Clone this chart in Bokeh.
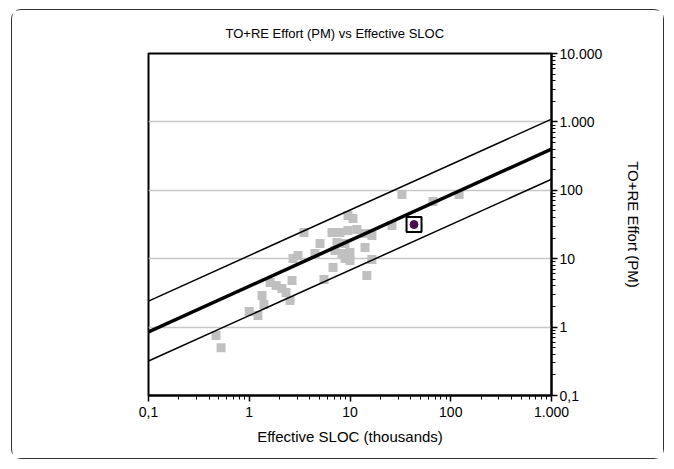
from bokeh.plotting import figure
from bokeh.models import FixedTicker, Title, ColumnDataSource
from bokeh.embed import file_html
from bokeh.resources import INLINE

# Data
sloc = [0.468, 0.525, 1.00, 1.22, 1.34, 1.40, 1.61, 1.85, 2.11, 2.32,
        2.54, 2.66, 2.72, 3.05, 3.49, 4.49, 5.04, 5.52, 6.78, 6.63,
        7.96, 9.55, 11.7, 14.1, 16.5, 7.43, 8.92, 14.1, 7.10, 8.33,
        10.0, 8.92, 10.0, 16.5, 14.7, 9.55, 10.7, 26.1, 32.8, 66.7, 121.0]
effort = [0.753, 0.50, 1.69, 1.48, 2.9, 2.14, 4.49, 4.06, 3.67, 3.2,
          2.45, 4.8, 10.1, 11.1, 24.2, 11.9, 16.7, 4.96, 7.44, 24.2,
          24.2, 25.8, 26.7, 23.4, 21.8, 17.3, 16.7, 14.6, 13.2, 11.9,
          12.3, 10.1, 9.4, 9.74, 5.68, 42.8, 38.7, 30.6, 86.8, 68.6, 86.8]
highlight_sloc = [43.2]
highlight_effort = [31.6]

trend_sloc = [0.1, 1000]
trend_mean = [0.85, 400]
trend_upper = [2.4, 1100]
trend_lower = [0.32, 145]

x_ticks = [0.1, 1, 10, 100, 1000]
x_labels = ["0,1", "1", "10", "100", "1.000"]
y_ticks = [0.1, 1, 10, 100, 1000, 10000]
y_labels = ["0,1", "1", "10", "100", "1.000", "10.000"]

FONT = "Liberation Sans"

p = figure(width=651, height=448, x_axis_type="log", y_axis_type="log",
           x_range=(0.1, 1000), y_range=(0.1, 10000),
           y_axis_location="right", output_backend="svg",
           toolbar_location=None, tools="",
           min_border_left=136, min_border_right=112,
           min_border_top=43, min_border_bottom=63,
           frame_width=403, frame_height=342)
p.margin = (9, 0, 0, 11)
p.styles = {"border": "1.5px solid #333333", "border-radius": "10px"}

p.title = Title(text="TO+RE Effort (PM) vs Effective SLOC", align="left",
                text_font=FONT, text_font_size="13px", text_font_style="normal",
                text_color="black", offset=77, standoff=26)

p.background_fill_color = "white"
p.border_fill_color = "white"
p.outline_line_color = "black"
p.outline_line_width = 2

x_minor = [m * 10.0 ** e for e in range(-1, 3) for m in range(2, 10)]
y_minor = [m * 10.0 ** e for e in range(-1, 4) for m in range(2, 10)]

xa = p.xaxis[0]
xa.ticker = FixedTicker(ticks=x_ticks, minor_ticks=x_minor)
xa.major_label_overrides = {t: l for t, l in zip(x_ticks, x_labels)}
xa.axis_label = "Effective SLOC (thousands)"

ya = p.yaxis[0]
ya.ticker = FixedTicker(ticks=y_ticks, minor_ticks=y_minor)
ya.major_label_overrides = {t: l for t, l in zip(y_ticks, y_labels)}
ya.axis_label = "TO+RE Effort (PM)"

for ax in (xa, ya):
    ax.axis_line_color = "black"
    ax.axis_line_width = 2
    ax.major_tick_line_color = "black"
    ax.minor_tick_line_color = "black"
    ax.major_tick_line_width = 1.5
    ax.minor_tick_line_width = 1
    ax.major_tick_out = 6
    ax.major_tick_in = 0
    ax.minor_tick_out = 4
    ax.minor_tick_in = 0
    ax.major_label_text_font = FONT
    ax.major_label_text_font_size = "14px"
    ax.major_label_text_color = "black"
    ax.axis_label_text_font = FONT
    ax.axis_label_text_font_size = "15px"
    ax.axis_label_text_font_style = "normal"
    ax.axis_label_text_color = "black"

xa.major_label_standoff = 5
xa.axis_label_standoff = 8
ya.major_label_standoff = 2
ya.axis_label_standoff = 20

p.xgrid.visible = False
p.ygrid.grid_line_color = "#c8c8c8"
p.ygrid.grid_line_width = 1.5

src = ColumnDataSource(dict(x=sloc, y=effort))
p.scatter("x", "y", source=src, marker="square", size=9,
          fill_color="#c0c0c0", line_color=None)

p.line(trend_sloc, trend_upper, line_color="black", line_width=1.5)
p.line(trend_sloc, trend_lower, line_color="black", line_width=1.5)
p.line(trend_sloc, trend_mean, line_color="black", line_width=3.5)

p.scatter(highlight_sloc, highlight_effort, marker="square", size=15,
          fill_color="white", line_color="black", line_width=2)
p.scatter(highlight_sloc, highlight_effort, marker="circle", size=8,
          fill_color="#4b0a4b", line_color="#4b0a4b")

open("out.html", "w").write(file_html(p, INLINE))
